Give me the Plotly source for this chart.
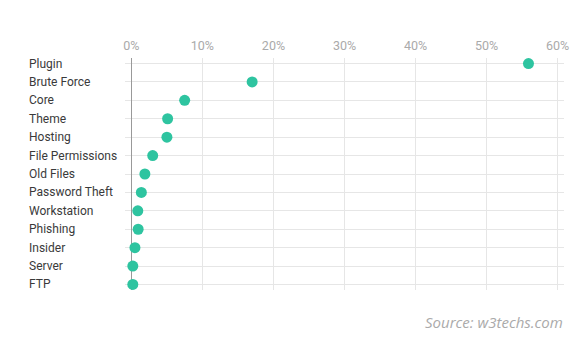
import plotly.graph_objects as go

categories = ["Plugin", "Brute Force", "Core", "Theme", "Hosting", "File Permissions",
              "Old Files", "Password Theft", "Workstation", "Phishing", "Insider",
              "Server", "FTP"]
values = [55.9, 17.0, 7.5, 5.1, 5.0, 3.0, 1.9, 1.4, 0.9, 0.95, 0.5, 0.2, 0.2]
x_ticks = [0, 10, 20, 30, 40, 50, 60]
x_tick_labels = [f"{t}%" for t in x_ticks]

W, H = 581, 350
ml, mr, mt, mb = 125, 17, 58, 60
pw = W - ml - mr

fig = go.Figure()
fig.add_trace(go.Scatter(
    x=values, y=categories, mode="markers",
    marker=dict(size=11, color="#2ec4a0", line=dict(width=0)),
    hoverinfo="x+y",
))

fig.update_layout(
    width=W, height=H,
    margin=dict(l=ml, r=mr, t=mt, b=mb),
    paper_bgcolor="white", plot_bgcolor="white",
    showlegend=False,
    font=dict(family="Roboto", size=12, color="#333"),
    xaxis=dict(
        side="top", range=[-0.9, 60.9], tickvals=x_ticks, ticktext=x_tick_labels,
        showgrid=True, gridcolor="#e6e6e6", gridwidth=1,
        zeroline=True, zerolinecolor="#999", zerolinewidth=1,
        tickfont=dict(family="Roboto", size=12.5, color="#aaa"),
        ticks="", ticklen=0, showline=False, fixedrange=True,
        ticklabelstandoff=5,
    ),
    yaxis=dict(
        categoryorder="array", categoryarray=categories,
        autorange=False, range=[len(categories) - 0.7, -0.3],
        showgrid=True, gridcolor="#e6e6e6", gridwidth=1,
        showticklabels=False, zeroline=False, showline=False, ticks="",
        fixedrange=True,
    ),
)

label_x = (27 - ml) / pw
for c in categories:
    fig.add_annotation(
        x=label_x, xref="paper", y=c, yref="y", text=c,
        showarrow=False, xanchor="left", yanchor="middle",
        font=dict(family="Roboto", size=12, color="#3a3a3a"),
    )

fig.add_annotation(
    x=(565 - ml) / pw, xref="paper", y=-(322 - (H - mb)) / (H - mt - mb), yref="paper",
    text="<i>Source: w3techs.com</i>", showarrow=False,
    xanchor="right", yanchor="middle",
    font=dict(family="Open Sans", size=15, color="#aaa"),
)

fig.write_html("out.html")
